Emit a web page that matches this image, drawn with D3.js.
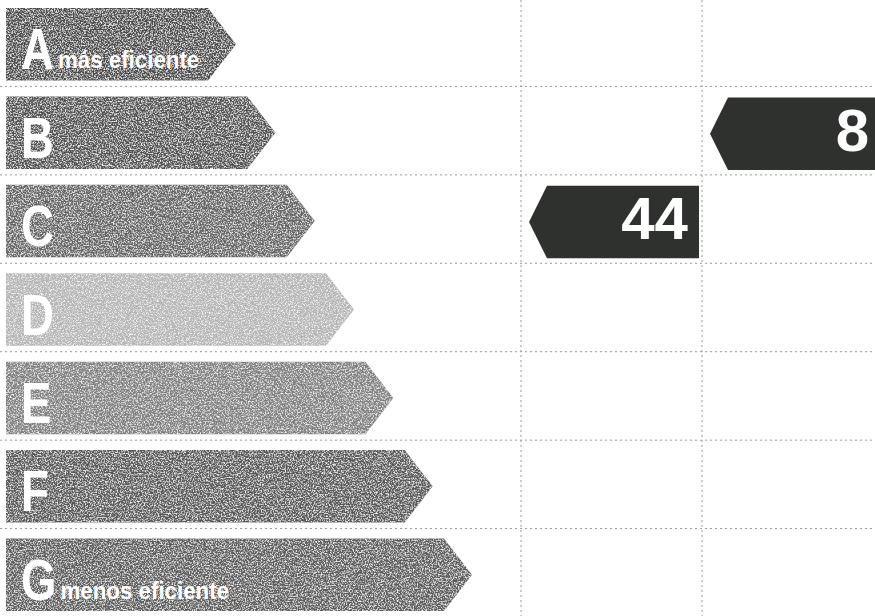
<!DOCTYPE html>
<html>
<head>
<meta charset="utf-8">
<script src="https://cdn.jsdelivr.net/npm/d3@7"></script>
<style>
  body { margin: 0; background: #fff; }
  svg { display: block; }
</style>
</head>
<body>
<script>
var width = 875;
var height = 616;

// energy classes, top (best) to bottom (worst)
var ratings = ["A", "B", "C", "D", "E", "F", "G"];
var ratingColors = ["#4a4a4a", "#505050", "#626262", "#b4b4b4", "#7e7e7e", "#565656", "#5a5a5a"];
var ratingNotes = {A: "más eficiente", G: "menos eficiente"};

// two columns of results: which class and what number
var columns = ["actual", "potencial"];
var resultRatings = ["C", "B"];
var resultValues = [44, 8];

var svg = d3.select("body").append("svg")
    .attr("width", width)
    .attr("height", height);

// scanned look: white speckles on the grey arrows
var defs = svg.append("defs");
var grain = defs.append("filter").attr("id", "grain")
    .attr("x", 0).attr("y", 0).attr("width", 1).attr("height", 1);
grain.append("feTurbulence").attr("type", "fractalNoise")
    .attr("baseFrequency", 0.75).attr("numOctaves", 2).attr("seed", 7).attr("result", "n");
grain.append("feColorMatrix").attr("in", "n").attr("type", "matrix")
    .attr("values", "0 0 0 0 1  0 0 0 0 1  0 0 0 0 1  3 0 0 0 -1.35").attr("result", "w");
grain.append("feComposite").attr("in", "w").attr("in2", "SourceGraphic")
    .attr("operator", "in").attr("result", "ws");
var merge = grain.append("feMerge");
merge.append("feMergeNode").attr("in", "SourceGraphic");
merge.append("feMergeNode").attr("in", "ws");

var y = d3.scaleBand().domain(ratings).range([0, 619]).paddingInner(0.18).paddingOuter(0.09);
var step = y.step();
// tip of each class arrow grows with the class index
var xTip = d3.scaleLinear().domain([0, ratings.length - 1]).range([236, 472]);
var xCol = d3.scaleBand().domain(columns).range([521, 883]);

var tip = 28;
var squeeze = 0.8;

// grid
var grid = svg.append("g").attr("stroke", "#9a9a9a").attr("stroke-width", 1)
    .attr("stroke-dasharray", "2,3");
grid.selectAll("line.h").data(ratings.slice(1)).enter().append("line")
    .attr("class", "h")
    .attr("x1", 0).attr("x2", width)
    .attr("y1", function(d){ return y(d) - (step - y.bandwidth()) / 2 - 2; })
    .attr("y2", function(d){ return y(d) - (step - y.bandwidth()) / 2 - 2; });
grid.selectAll("line.v").data(columns).enter().append("line")
    .attr("class", "v")
    .attr("x1", function(d){ return xCol(d); })
    .attr("x2", function(d){ return xCol(d); })
    .attr("y1", 0).attr("y2", height);

// class arrows
var bars = svg.selectAll("g.bar").data(ratings).enter().append("g").attr("class", "bar");
bars.append("path")
    .attr("fill", function(d, i){ return ratingColors[i]; })
    .attr("filter", "url(#grain)")
    .attr("d", function(d, i){
      var y0 = y(d), h = y.bandwidth(), xe = xTip(i);
      return "M6," + y0 + "H" + (xe - tip) + "L" + xe + "," + (y0 + h / 2) +
             "L" + (xe - tip) + "," + (y0 + h) + "H6Z";
    });
bars.append("text")
    .attr("class", "letter")
    .attr("transform", function(d){
      return "translate(21," + (y(d) + y.bandwidth() / 2 + 25) + ") scale(" + squeeze + ",1)";
    })
    .attr("fill", "#fff")
    .attr("font-family", "'Liberation Sans', Arial, sans-serif")
    .attr("font-weight", "bold")
    .attr("font-size", 57)
    .text(function(d){ return d; });
bars.filter(function(d){ return ratingNotes[d]; }).each(function(d){
  var g = d3.select(this);
  var w = g.select("text.letter").node().getComputedTextLength() * squeeze;
  g.append("text")
    .attr("transform", "translate(" + (21 + w + 4) + "," + (y(d) + y.bandwidth() / 2 + 24) + ") scale(0.93,1)")
    .attr("fill", "#fff")
    .attr("font-family", "'Liberation Sans', Arial, sans-serif")
    .attr("font-weight", "bold")
    .attr("font-size", 24)
    .text(ratingNotes[d]);
});

// result arrows (pointing left)
var res = svg.selectAll("g.res").data(columns).enter().append("g").attr("class", "res");
res.append("path")
    .attr("fill", "#2e312e")
    .attr("d", function(d, i){
      var y0 = y(resultRatings[i]) + 1, h = y.bandwidth();
      var x0 = xCol(d) + 8, x1 = xCol(d) + xCol.bandwidth() - 3;
      return "M" + x1 + "," + y0 + "H" + (x0 + 18) + "L" + x0 + "," + (y0 + h / 2) +
             "L" + (x0 + 18) + "," + (y0 + h) + "H" + x1 + "Z";
    });
res.append("text")
    .attr("x", function(d){ return xCol(d) + xCol.bandwidth() - 14; })
    .attr("y", function(d, i){ return y(resultRatings[i]) + y.bandwidth() / 2 + 18; })
    .attr("text-anchor", "end")
    .attr("fill", "#fff")
    .attr("font-family", "'Liberation Sans', Arial, sans-serif")
    .attr("font-weight", "bold")
    .attr("font-size", 60)
    .text(function(d, i){ return resultValues[i]; });
</script>
</body>
</html>
